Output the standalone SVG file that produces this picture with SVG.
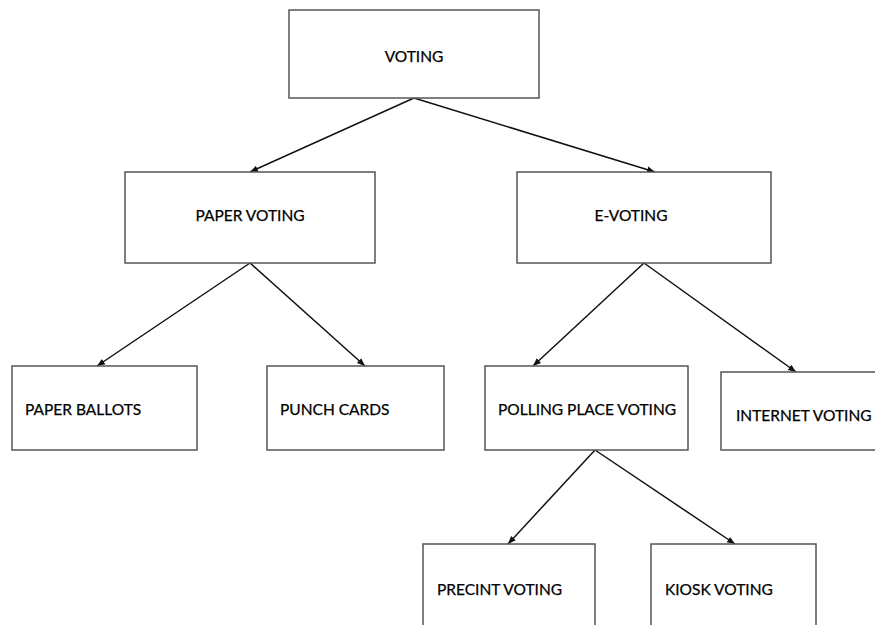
<svg xmlns="http://www.w3.org/2000/svg" width="875" height="625" viewBox="0 0 875 625">
<style>
.box{fill:#fff;stroke:#555;stroke-width:1.5}
.t{font-family:Lato,"Open Sans","Liberation Sans",sans-serif;font-size:15.5px;fill:#000;stroke:#000;stroke-width:0.25;dominant-baseline:central}
.c{stroke:#111;stroke-width:1.5;fill:none;marker-end:url(#ah)}
</style>
<defs>
<marker id="ah" viewBox="0 0 10 10" refX="10" refY="5" markerWidth="8" markerHeight="8" markerUnits="userSpaceOnUse" orient="auto">
<path d="M0,1 L10,5 L0,9 z" fill="#111"/>
</marker>
</defs>
<rect width="875" height="625" fill="#fff"/>
<g id="connectors">
<line class="c" x1="414" y1="98" x2="250" y2="172"/>
<line class="c" x1="414" y1="98" x2="655" y2="172"/>
<line class="c" x1="250" y1="263" x2="97" y2="366"/>
<line class="c" x1="250" y1="263" x2="365" y2="366"/>
<line class="c" x1="644" y1="263" x2="533" y2="366"/>
<line class="c" x1="644" y1="263" x2="796" y2="372"/>
<line class="c" x1="595" y1="450" x2="508" y2="544"/>
<line class="c" x1="595" y1="450" x2="735" y2="544"/>
</g>
<g id="voting"><rect class="box" x="289" y="10" width="250" height="88"/><text class="t" x="414" y="56" text-anchor="middle">VOTING</text></g>
<g id="paper-voting"><rect class="box" x="125" y="172" width="250" height="91"/><text class="t" x="250" y="215" text-anchor="middle">PAPER VOTING</text></g>
<g id="e-voting"><rect class="box" x="517" y="172" width="254" height="91"/><text class="t" x="631" y="215" text-anchor="middle">E-VOTING</text></g>
<g id="paper-ballots"><rect class="box" x="12" y="366" width="185" height="84"/><text class="t" x="25" y="409">PAPER BALLOTS</text></g>
<g id="punch-cards"><rect class="box" x="267" y="366" width="177" height="84"/><text class="t" x="280" y="409">PUNCH CARDS</text></g>
<g id="polling-place-voting"><rect class="box" x="485" y="366" width="203" height="84"/><text class="t" x="498" y="409">POLLING PLACE VOTING</text></g>
<g id="internet-voting"><rect class="box" x="721" y="372" width="160" height="78"/><text class="t" x="736" y="415">INTERNET VOTING</text></g>
<g id="precint-voting"><rect class="box" x="423" y="544" width="172" height="100"/><text class="t" x="437" y="589">PRECINT VOTING</text></g>
<g id="kiosk-voting"><rect class="box" x="651" y="544" width="165" height="100"/><text class="t" x="665" y="589">KIOSK VOTING</text></g>
</svg>
